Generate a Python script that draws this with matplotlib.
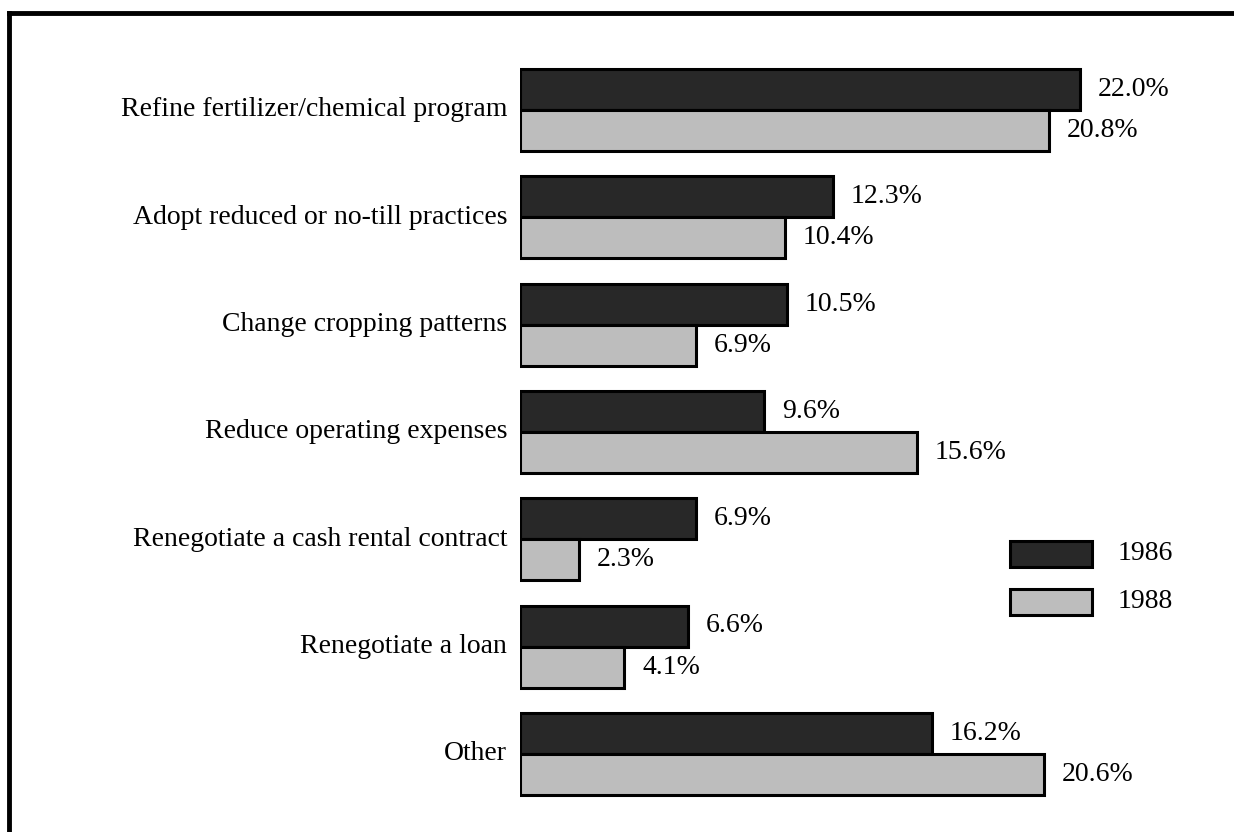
import matplotlib
matplotlib.use("Agg")
import matplotlib.pyplot as plt
from matplotlib.lines import Line2D
from matplotlib.patches import Rectangle

categories = [
    "Refine fertilizer/chemical program",
    "Adopt reduced or no-till practices",
    "Change cropping patterns",
    "Reduce operating expenses",
    "Renegotiate a cash rental contract",
    "Renegotiate a loan",
    "Other",
]
vals_1986 = [22.0, 12.3, 10.5, 9.6, 6.9, 6.6, 16.2]
vals_1988 = [20.8, 10.4, 6.9, 15.6, 2.3, 4.1, 20.6]
years = ["1986", "1988"]

W, H = 1234, 832
fig = plt.figure(figsize=(W / 100, H / 100), dpi=100)
plt.rcParams["font.family"] = ["Liberation Serif", "DejaVu Serif"]

# axes placed so that 0% sits at x=520px, ~25.45px per percent
x0 = 520
ppu = 25.45
ax = fig.add_axes([x0 / W, 0, (W - x0) / W, 1])
ax.set_xlim(0, (W - x0) / ppu)
gap = 107.3
top = -110 / gap
ax.set_ylim(top + H / gap, top)
ax.axis("off")

bh = 41 / gap
c86 = "#282828"
c88 = "#bdbdbd"
ys = list(range(len(categories)))
ax.barh([y - bh / 2 for y in ys], vals_1986, height=bh, color=c86,
        edgecolor="black", linewidth=2.2)
ax.barh([y + bh / 2 for y in ys], vals_1988, height=bh, color=c88,
        edgecolor="black", linewidth=2.2)

for y, a, b, lab in zip(ys, vals_1986, vals_1988, categories):
    ax.text(a + 0.7, y - bh / 2, f"{a:.1f}%", va="center", ha="left",
            fontsize=20)
    ax.text(b + 0.7, y + bh / 2, f"{b:.1f}%", va="center", ha="left",
            fontsize=20)
    ax.text(-0.5, y, lab, va="center", ha="right", fontsize=20)

# legend drawn by hand
for i, (yr, c) in enumerate(zip(years, [c86, c88])):
    yc = 554 + i * 48
    fig.patches.append(Rectangle((1010 / W, 1 - (yc + 13) / H), 82 / W, 26 / H,
                                 transform=fig.transFigure, facecolor=c,
                                 edgecolor="black", linewidth=2.2))
    fig.text(1118 / W, 1 - yc / H, yr, va="center", ha="left", fontsize=20)

# frame: only left and top edges
fig.lines.append(Line2D([9 / W, 9 / W], [0, 1 - 13 / H], transform=fig.transFigure,
                        color="black", linewidth=3.5))
fig.lines.append(Line2D([9 / W, 1], [1 - 13 / H, 1 - 13 / H], transform=fig.transFigure,
                        color="black", linewidth=3.5))

fig.savefig("out.png", dpi=100)
